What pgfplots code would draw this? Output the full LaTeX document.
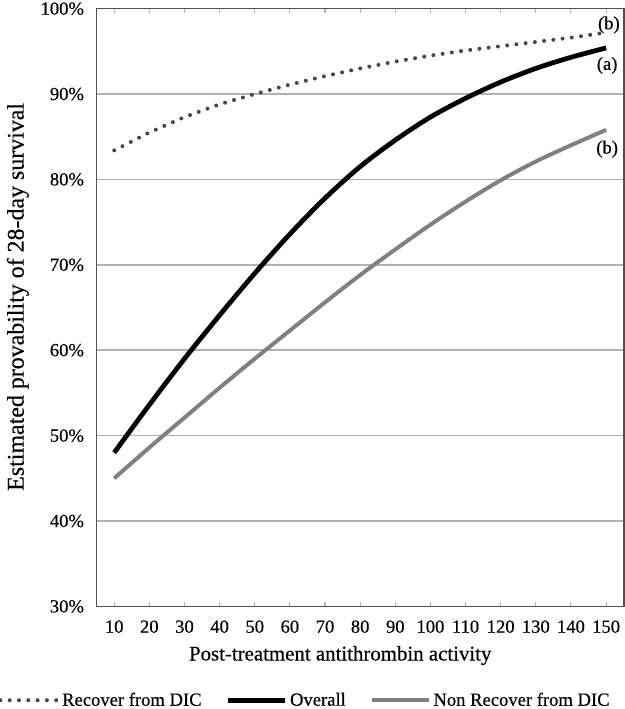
\documentclass[border=0pt]{standalone}
\usepackage{fontspec}
\setmainfont{Liberation Serif}[BoldFont={Liberation Serif}, BoldFeatures={FakeBold=0.35}]
\usepackage{pgfplots}
\pgfplotsset{compat=1.18}

\definecolor{gridgray}{RGB}{178,178,178}
\definecolor{framegray}{RGB}{80,80,80}
\definecolor{dotgray}{RGB}{70,70,70}
\definecolor{linegray}{RGB}{128,128,128}

\newcommand{\tickfont}{\fontsize{14}{16}\bfseries}
\begin{document}
\begin{tikzpicture}
\begin{axis}[
  scale only axis,
  width=396.75pt,
  height=450pt,
  xmin=5, xmax=155,
  ymin=30, ymax=100,
  xtick={10,20,...,150},
  ytick={30,40,...,100},
  yticklabel={\pgfmathprintnumber{\tick}\%},
  /pgf/number format/assume math mode=true,
  ymajorgrids,
  grid style={gridgray, line width=1.2pt},
  axis line style={framegray, line width=1.3pt},
  tick align=inside,
  major tick length=3pt,
  xtick style={gridgray, line width=0.8pt},
  ytick style={draw=none},
  tick label style={font=\tickfont},
  xticklabel style={yshift=-7pt},
  yticklabel style={xshift=-6pt},
  xlabel={Post-treatment antithrombin activity},
  ylabel={Estimated provability of 28-day survival},
  xlabel style={font=\fontsize{15.7}{18}\bfseries, yshift=-3pt, xshift=-15pt},
  ylabel style={font=\fontsize{18}{20}\bfseries, yshift=2pt, xshift=8pt},
  legend columns=3,
  legend style={at={(0.396,-0.157)}, anchor=center, draw=none,
    font=\tickfont, inner sep=0pt,
    /tikz/every even column/.append style={column sep=16pt}},
  legend image code/.code={\draw[#1] (0pt,0pt) -- (43pt,0pt);},
]
\addplot[dotgray, line width=3pt, line cap=round, dash pattern=on 0pt off 7pt]
coordinates {(10,83.4) (20,85.5) (30,87.3) (40,88.8) (50,90.0) (60,91.1) (70,92.1) (80,93.0) (90,93.8) (100,94.5) (110,95.1) (120,95.6) (130,96.1) (140,96.6) (150,97.2)};
\addlegendentry{Recover from DIC}
\addplot[black, line width=3.6pt, smooth]
coordinates {(10,48.0) (20,53.6) (30,59.0) (40,64.1) (50,69.0) (60,73.6) (70,77.8) (80,81.5) (90,84.6) (100,87.3) (110,89.5) (120,91.4) (130,93.0) (140,94.3) (150,95.4)};
\addlegendentry{Overall}
\addplot[linegray, line width=3pt, smooth]
coordinates {(10,45.0) (20,48.6) (30,52.1) (40,55.6) (50,59.0) (60,62.3) (70,65.6) (80,68.8) (90,71.8) (100,74.7) (110,77.4) (120,79.9) (130,82.1) (140,84.0) (150,85.8)};
\addlegendentry{Non Recover from DIC}
\node[font=\tickfont] at (axis cs:150.8,98.1) {(b)};
\node[font=\tickfont] at (axis cs:150.3,93.35) {(a)};
\node[font=\tickfont] at (axis cs:150.3,83.55) {(b)};
\end{axis}
\pgfresetboundingbox
\path ([shift={(-72.75pt,-77.25pt)}]current axis.south west) rectangle ([shift={(0.75pt,6.5pt)}]current axis.north east);
\end{tikzpicture}
\end{document}
